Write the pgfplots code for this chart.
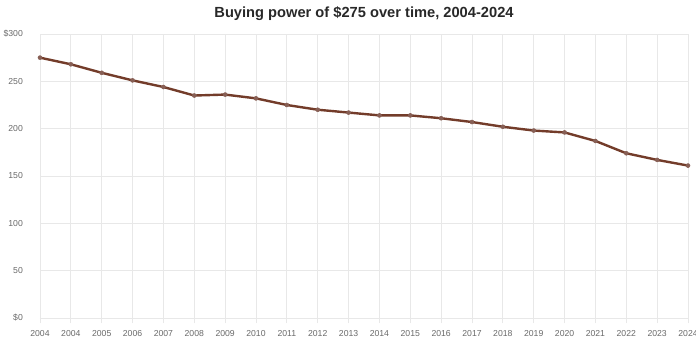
\documentclass[border=0pt]{standalone}
\usepackage{pgfplots}
\pgfplotsset{compat=1.18}
\usepackage{fontspec}
\setmainfont{Liberation Sans}
\definecolor{linebrown}{RGB}{115,60,42}
\definecolor{markfill}{RGB}{135,95,85}
\definecolor{gridgray}{RGB}{232,232,232}
\definecolor{zerogray}{RGB}{220,220,220}
\definecolor{ticktext}{RGB}{105,105,105}
\definecolor{titletext}{RGB}{40,40,40}
\begin{document}
\begin{tikzpicture}
\begin{axis}[
  at={(30pt,17.25pt)}, anchor=south west,
  scale only axis, width=486pt, height=213pt,
  xmin=0, xmax=21, ymin=0, ymax=300,
  xtick={0,...,21},
  xticklabels={2004,2004,2005,2006,2007,2008,2009,2010,2011,2012,2013,2014,2015,2016,2017,2018,2019,2020,2021,2022,2023,2024},
  ytick={0,50,100,150,200,250,300},
  yticklabels={\$0,50,100,150,200,250,\$300},
  grid=major,
  major grid style={draw=gridgray, line width=0.6pt},
  extra y ticks={0},
  extra y tick labels={},
  extra y tick style={grid style={draw=zerogray, line width=1.2pt}},
  axis line style={draw=none},
  ytick style={draw=none},
  xtick style={draw=gridgray, line width=0.6pt},
  xtick pos=lower, tick align=outside, major tick length=4pt,
  tick label style={font=\fontsize{6.5}{7}\selectfont, text=ticktext},
  xticklabel style={anchor=center, yshift=-7.5pt},
  yticklabel style={anchor=east, xshift=-5.3pt},
  /pgf/number format/assume math mode=true,
  title={Buying power of \$275 over time, 2004-2024},
  title style={at={(0.5,1)}, anchor=center, yshift=9pt, font=\bfseries\fontsize{11}{13}\selectfont, text=titletext},
  clip=false,
]
\addplot[linebrown, line width=1.8pt, mark=*, mark size=1.5pt,
  mark options={fill=markfill, draw=markfill, line width=0.4pt}] coordinates {
(0,275) (1,268) (2,259) (3,251) (4,244) (5,235) (6,236) (7,232) (8,225) (9,220)
(10,217) (11,214) (12,214) (13,211) (14,207) (15,202) (16,198) (17,196) (18,187)
(19,174) (20,167) (21,161)
};
\end{axis}
\pgfresetboundingbox
\path (0,0) rectangle (522pt,255.75pt);
\end{tikzpicture}
\end{document}
